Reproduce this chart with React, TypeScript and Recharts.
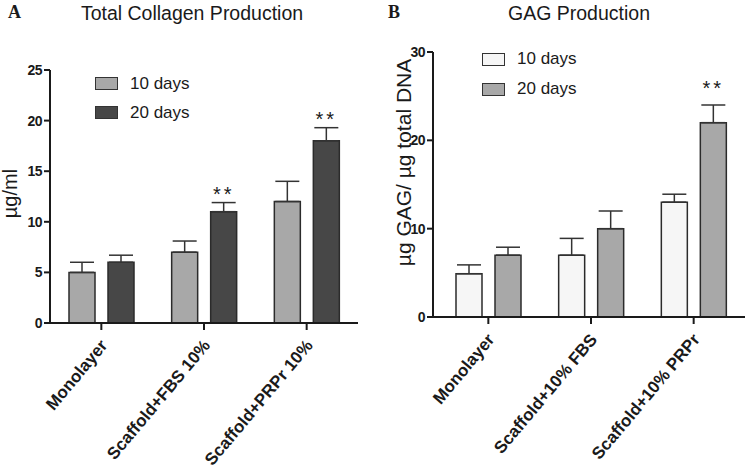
import React from 'react';
import { BarChart, Bar, XAxis, YAxis, ErrorBar, Legend, LabelList } from 'recharts';

const groupsA = ['Monolayer', 'Scaffold+FBS 10%', 'Scaffold+PRPr 10%'];
const groupsB = ['Monolayer', 'Scaffold+10% FBS', 'Scaffold+10% PRPr'];
const seriesNames = ['10 days', '20 days'];

const collagen10 = [5, 7, 12];
const collagen20 = [6, 11, 18];
const collagen10Err = [1, 1.1, 2];
const collagen20Err = [0.7, 0.9, 1.3];
const collagenSig = ['', '**', '**'];
const collagenTicks = [0, 5, 10, 15, 20, 25];

const gag10 = [4.9, 7, 13];
const gag20 = [7, 10, 22];
const gag10Err = [1, 1.9, 0.9];
const gag20Err = [0.9, 2, 2];
const gagSig = ['', '', '**'];
const gagTicks = [0, 10, 20, 30];

const FONT = "'Liberation Sans', Arial, Helvetica, sans-serif";
const INK = '#1a1a1a';

function makeRows(groups: string[], v10: number[], v20: number[], e10: number[], e20: number[], sig: string[]) {
  return groups.map((g, i) => ({
    group: g,
    d10: v10[i],
    d20: v20[i],
    err10: [0, e10[i]],
    err20: [0, e20[i]],
    sig: sig[i],
  }));
}

const collagenRows = makeRows(groupsA, collagen10, collagen20, collagen10Err, collagen20Err, collagenSig);
const gagRows = makeRows(groupsB, gag10, gag20, gag10Err, gag20Err, gagSig);

function SlantTick(props: any) {
  const { x, y, payload } = props;
  const tx = x + 7;
  const ty = y + 14;
  return (
    <text
      x={tx}
      y={ty}
      transform={`rotate(-50 ${tx} ${ty})`}
      textAnchor="end"
      fontFamily={FONT}
      fontWeight="bold"
      fontSize={17}
      fill={INK}
    >
      {payload.value}
    </text>
  );
}

function NumTick(props: any) {
  const { x, y, payload } = props;
  return (
    <text
      x={x}
      y={y}
      dy={5}
      textAnchor="end"
      fontFamily={FONT}
      fontWeight="bold"
      fontSize={14}
      letterSpacing={-0.5}
      fill={INK}
    >
      {payload.value}
    </text>
  );
}

function AxisTitle(props: any) {
  const { viewBox, text, dx, dy, size } = props;
  const cx = viewBox.x + dx;
  const cy = viewBox.y + viewBox.height / 2 + dy;
  return (
    <text
      x={cx}
      y={cy}
      transform={`rotate(-90 ${cx} ${cy})`}
      textAnchor="middle"
      fontFamily={FONT}
      fontSize={size}
      fill={INK}
    >
      {text}
    </text>
  );
}

function SwatchLegend(props: any) {
  const { payload, rowHeight } = props;
  return (
    <div style={{ fontFamily: FONT }}>
      {(payload || []).map((e: any) => (
        <div key={e.value} style={{ display: 'flex', alignItems: 'center', height: rowHeight }}>
          <span
            style={{
              display: 'inline-block',
              width: 21,
              height: 11,
              background: e.color,
              border: '1.5px solid #333',
            }}
          />
          <span style={{ marginLeft: 12, fontSize: 17, color: INK }}>{e.value}</span>
        </div>
      ))}
    </div>
  );
}

function Stars(props: any) {
  const { x, y, width, height, value, index, vals, errs, gap } = props;
  if (!value) return null;
  const errPx = (height / vals[index]) * errs[index];
  return (
    <text
      x={x + width / 2}
      y={y - errPx - gap}
      textAnchor="middle"
      fontFamily={FONT}
      fontSize={20}
      letterSpacing={3}
      fill={INK}
    >
      {value}
    </text>
  );
}

interface PanelProps {
  rows: any[];
  v20: number[];
  e20: number[];
  ticks: number[];
  colors: string[];
  yWidth: number;
  margin: { top: number; right: number; bottom: number; left: number };
  xHeight: number;
  padLeft: number;
  yLabel: string;
  yLabelDx: number;
  yLabelDy: number;
  yLabelSize: number;
  legendPos: { left: number; top: number };
  legendRow: number;
  starGap: number;
}

function Panel(p: PanelProps) {
  const axisStroke = { stroke: INK, strokeWidth: 2 };
  return (
    <BarChart width={375} height={476} data={p.rows} margin={p.margin} barSize={26} barGap={13}>
      <XAxis
        dataKey="group"
        height={p.xHeight}
        interval={0}
        tick={<SlantTick />}
        axisLine={axisStroke}
        tickLine={axisStroke}
        tickSize={7}
        padding={{ left: p.padLeft, right: 0 }}
      />
      <YAxis
        width={p.yWidth}
        domain={[p.ticks[0], p.ticks[p.ticks.length - 1]]}
        ticks={p.ticks}
        allowDataOverflow
        axisLine={axisStroke}
        tickLine={axisStroke}
        tickSize={6}
        tickMargin={2}
        tick={<NumTick />}
        label={(lp: any) => (
          <AxisTitle {...lp} text={p.yLabel} dx={p.yLabelDx} dy={p.yLabelDy} size={p.yLabelSize} />
        )}
      />
      <Legend
        layout="vertical"
        align="center"
        verticalAlign="middle"
        content={<SwatchLegend rowHeight={p.legendRow} />}
        wrapperStyle={{ left: p.legendPos.left, top: p.legendPos.top, width: 140, height: 60 }}
      />
      <Bar dataKey="d10" name={seriesNames[0]} fill={p.colors[0]} stroke="#2b2b2b" strokeWidth={1.5} isAnimationActive={false}>
        <ErrorBar dataKey="err10" width={12} stroke="#333" strokeWidth={1.5} />
      </Bar>
      <Bar dataKey="d20" name={seriesNames[1]} fill={p.colors[1]} stroke="#2b2b2b" strokeWidth={1.5} isAnimationActive={false}>
        <ErrorBar dataKey="err20" width={12} stroke="#333" strokeWidth={1.5} />
        <LabelList
          dataKey="sig"
          content={(lp: any) => <Stars {...lp} vals={p.v20} errs={p.e20} gap={p.starGap} />}
        />
      </Bar>
    </BarChart>
  );
}

const titleStyle: React.CSSProperties = {
  position: 'absolute',
  top: 0,
  width: 300,
  textAlign: 'center',
  fontFamily: FONT,
  fontSize: 19.5,
  color: INK,
  lineHeight: '26px',
};

const panelLetter: React.CSSProperties = {
  position: 'absolute',
  top: 2,
  fontFamily: "'Liberation Serif', 'Times New Roman', serif",
  fontWeight: 'bold',
  fontSize: 18,
  color: INK,
};

export default function App() {
  return (
    <div style={{ position: 'absolute', left: 0, top: 0, width: 750, height: 476, background: '#fff' }}>
      <div style={{ position: 'absolute', left: 0, top: 0 }}>
        <Panel
          rows={collagenRows}
          v20={collagen20}
          e20={collagen20Err}
          ticks={collagenTicks}
          colors={['#a8a8a8', '#474747']}
          yWidth={50}
          margin={{ top: 70, right: 17, bottom: 3, left: 0 }}
          xHeight={150}
          padLeft={0}
          yLabel="µg/ml"
          yLabelDx={17}
          yLabelDy={-3}
          yLabelSize={20}
          legendPos={{ left: 95, top: 69 }}
          legendRow={29}
          starGap={2}
        />
      </div>
      <div style={{ position: 'absolute', left: 375, top: 0 }}>
        <Panel
          rows={gagRows}
          v20={gag20}
          e20={gag20Err}
          ticks={gagTicks}
          colors={['#f6f6f6', '#a8a8a8']}
          yWidth={58}
          margin={{ top: 52, right: 5, bottom: 3, left: 0 }}
          xHeight={156}
          padLeft={4}
          yLabel="µg GAG/ µg total DNA"
          yLabelDx={36}
          yLabelDy={-22}
          yLabelSize={21}
          legendPos={{ left: 107, top: 44 }}
          legendRow={30}
          starGap={10}
        />
      </div>
      <div style={{ ...titleStyle, left: 42 }}>Total Collagen Production</div>
      <div style={{ ...titleStyle, left: 429 }}>GAG Production</div>
      <div style={{ ...panelLetter, left: 8 }}>A</div>
      <div style={{ ...panelLetter, left: 388 }}>B</div>
    </div>
  );
}
